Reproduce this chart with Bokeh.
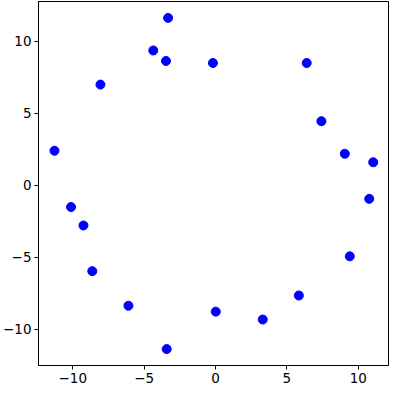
from bokeh.plotting import figure
from bokeh.models import Range1d, FixedTicker
from bokeh.embed import file_html
from bokeh.resources import INLINE

x_vals = [-3.32, -4.36, -3.47, -0.18, 6.39, -8.06, 7.42,
          -11.28, 9.06, 11.05, 10.77, -10.12, -9.25, 9.41,
          -8.63, -6.10, -3.42, 0.02, 3.31, 5.84]
y_vals = [11.62, 9.36, 8.63, 8.49, 8.49, 6.99, 4.45,
          2.40, 2.19, 1.60, -0.94, -1.51, -2.79, -4.93,
          -5.96, -8.36, -11.37, -8.77, -9.32, -7.65]
tick_vals = [-10, -5, 0, 5, 10]
tick_labels = {-10: "\u221210", -5: "\u22125", 0: "0", 5: "5", 10: "10"}

p = figure(width=390, height=385, output_backend="svg", toolbar_location=None,
           x_range=Range1d(-12.4, 12.12), y_range=Range1d(-12.51, 12.76),
           min_border_left=35, min_border_right=2, min_border_top=1, min_border_bottom=10)

p.scatter(x_vals, y_vals, size=9, color="#0000ff")

p.grid.visible = False
p.outline_line_color = "black"
p.outline_line_width = 1
p.outline_line_alpha = 1
for ax in (p.xaxis[0], p.yaxis[0]):
    ax.ticker = FixedTicker(ticks=tick_vals)
    ax.major_label_overrides = {float(k): v for k, v in tick_labels.items()}
    ax.axis_line_color = "black"
    ax.major_tick_in = 0
    ax.major_tick_out = 4
    ax.minor_tick_line_color = None
    ax.major_tick_line_color = "black"
    ax.major_label_text_font = "DejaVu Sans"
    ax.major_label_text_font_size = "13.5px"
    ax.major_label_text_color = "black"
    ax.major_label_standoff = 3
p.yaxis[0].major_label_orientation = "horizontal"

open("out.html", "w").write(file_html(p, INLINE))
